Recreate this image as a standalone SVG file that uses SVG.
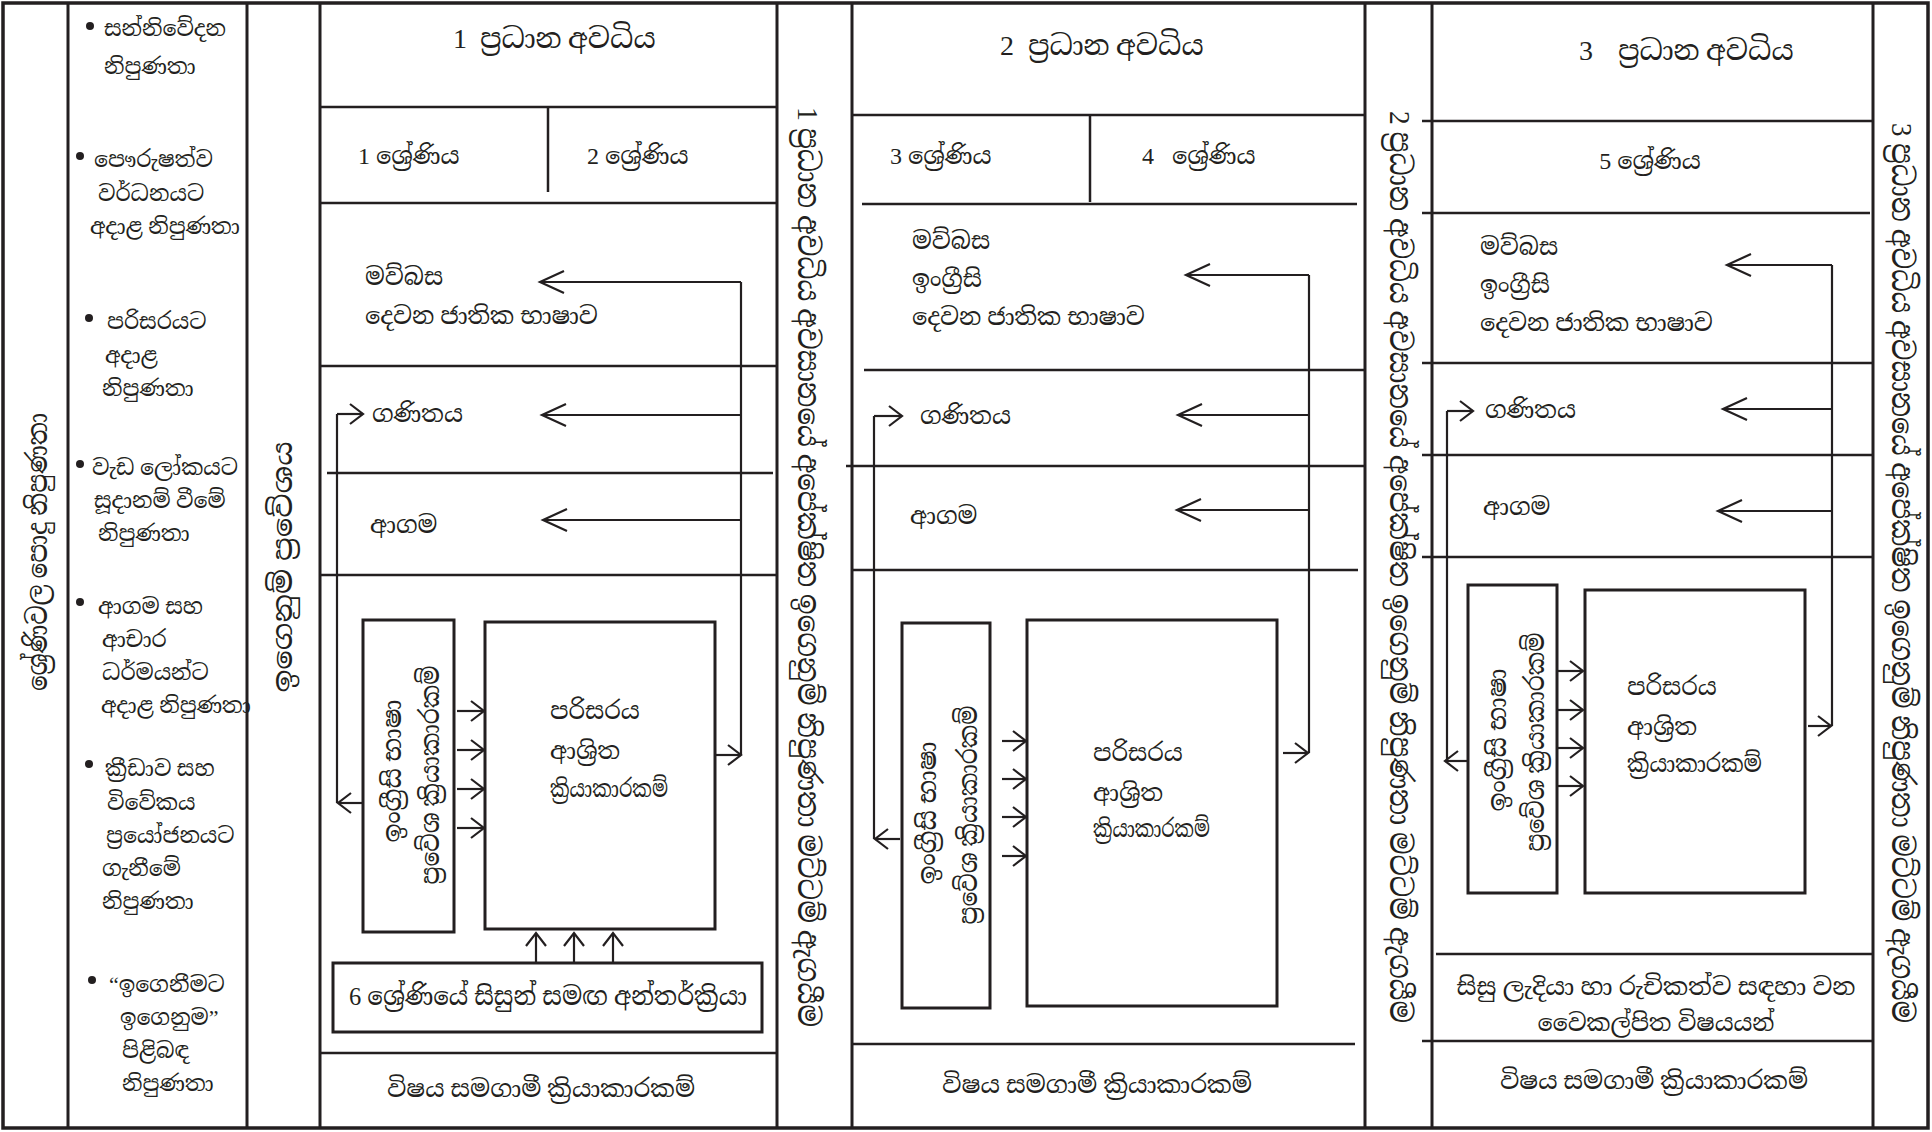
<svg xmlns="http://www.w3.org/2000/svg" width="1932" height="1132" viewBox="0 0 1932 1132">
<defs>
<marker id="big" markerUnits="userSpaceOnUse" markerWidth="30" markerHeight="30" refX="24" refY="11" orient="auto" overflow="visible">
<path d="M0,0 L24,11 L0,22" fill="none" stroke="#231f20" stroke-width="2.2"/>
</marker>
<marker id="sm" markerUnits="userSpaceOnUse" markerWidth="20" markerHeight="24" refX="13" refY="10" orient="auto" overflow="visible">
<path d="M0,0 L13,10 L0,20" fill="none" stroke="#231f20" stroke-width="2.2"/>
</marker>
<style>
.t{font-family:"Liberation Serif","Noto Serif Sinhala","Noto Sans Sinhala","Iskoola Pota",serif;fill:#231f20;}
.f22{font-size:22px;}
.f24{font-size:24px;}
.f26{font-size:26px;}
.f28{font-size:28px;}
.f30{font-size:30px;}
.ln{stroke:#231f20;stroke-width:2.5;fill:none;}
.th{stroke:#231f20;stroke-width:3;fill:none;}
.box{stroke:#231f20;stroke-width:3;fill:#fff;}
.c{stroke:#231f20;stroke-width:2.2;fill:none;}
.cb{stroke:#231f20;stroke-width:2.2;fill:none;marker-end:url(#big);}
.cs{stroke:#231f20;stroke-width:2.2;fill:none;marker-end:url(#sm);}
.m{text-anchor:middle;}
</style>
</defs>
<rect width="1932" height="1132" fill="#fff"/>

<g id="frame">
<rect x="3" y="3" width="1925" height="1125" fill="none" stroke="#231f20" stroke-width="3.5"/>
<line class="th" x1="68" y1="3" x2="68" y2="1128"/>
<line class="th" x1="247" y1="3" x2="247" y2="1128"/>
<line class="th" x1="320" y1="3" x2="320" y2="1128"/>
<line class="th" x1="777" y1="3" x2="777" y2="1128"/>
<line class="th" x1="852" y1="3" x2="852" y2="1128"/>
<line class="th" x1="1365" y1="3" x2="1365" y2="1128"/>
<line class="th" x1="1432" y1="3" x2="1432" y2="1128"/>
<line class="th" x1="1873" y1="3" x2="1873" y2="1128"/>
</g>

<g id="competencies">
<circle cx="90" cy="26" r="4" fill="#231f20"/>
<text class="t f22" x="104" y="36">සන්නිවේදන</text>
<text class="t f22" x="104" y="74">නිපුණතා</text>
<circle cx="80" cy="156" r="4" fill="#231f20"/>
<text class="t f22" x="94" y="167">පෞරුෂත්ව</text>
<text class="t f22" x="98" y="201">වර්ධනයට</text>
<text class="t f22" x="90" y="234">අදාළ නිපුණතා</text>
<circle cx="89" cy="318" r="4" fill="#231f20"/>
<text class="t f22" x="107" y="329">පරිසරයට</text>
<text class="t f22" x="105" y="363">අදාළ</text>
<text class="t f22" x="102" y="396">නිපුණතා</text>
<circle cx="80" cy="464" r="4" fill="#231f20"/>
<text class="t f22" x="92" y="475">වැඩ ලෝකයට</text>
<text class="t f22" x="94" y="508">සූදානම් වීමේ</text>
<text class="t f22" x="98" y="541">නිපුණතා</text>
<circle cx="80" cy="602" r="4" fill="#231f20"/>
<text class="t f22" x="98" y="614">ආගම සහ</text>
<text class="t f22" x="102" y="647">ආචාර</text>
<text class="t f22" x="102" y="680">ධර්මයන්ට</text>
<text class="t f22" x="101" y="713">අදාළ නිපුණතා</text>
<circle cx="89" cy="764" r="4" fill="#231f20"/>
<text class="t f22" x="105" y="776">ක්‍රීඩාව සහ</text>
<text class="t f22" x="107" y="810">විවේකය</text>
<text class="t f22" x="106" y="843">ප්‍රයෝජනයට</text>
<text class="t f22" x="102" y="876">ගැනීමේ</text>
<text class="t f22" x="102" y="909">නිපුණතා</text>
<circle cx="92" cy="980" r="4" fill="#231f20"/>
<text class="t f22" x="109" y="992">“ඉගෙනීමට</text>
<text class="t f22" x="120" y="1025">ඉගෙනුම”</text>
<text class="t f22" x="122" y="1058">පිළිබඳ</text>
<text class="t f22" x="122" y="1091">නිපුණතා</text>
</g>

<g id="side-left">
<text class="t f28 m" transform="translate(37,552) rotate(-90)" dy="10" textLength="278" lengthAdjust="spacingAndGlyphs">ශ්‍රේණිවල පොදු නිපුණතා</text>
<text class="t f28 m" transform="translate(282,567) rotate(-90)" dy="10" textLength="251" lengthAdjust="spacingAndGlyphs">ඉගෙනුම් ප්‍රවේශය</text>
</g>

<g id="side-right">
<text class="t f30 m" transform="translate(808,567) rotate(90)" dy="10" textLength="920" lengthAdjust="spacingAndGlyphs">1 ප්‍රධාන අවධිය අවසානයේ අපේක්ෂිත ඉගෙනුම් නිපුණතා මට්ටම් ඇගයීම</text>
<text class="t f30 m" transform="translate(1400,567) rotate(90)" dy="10" textLength="912" lengthAdjust="spacingAndGlyphs">2 ප්‍රධාන අවධිය අවසානයේ අපේක්ෂිත ඉගෙනුම් නිපුණතා මට්ටම් ඇගයීම</text>
<text class="t f30 m" transform="translate(1902,573) rotate(90)" dy="10" textLength="900" lengthAdjust="spacingAndGlyphs">3 ප්‍රධාන අවධිය අවසානයේ අපේක්ෂිත ඉගෙනුම් නිපුණතා මට්ටම් ඇගයීම</text>
</g>

<g id="stage1">
<line class="ln" x1="320" y1="107" x2="777" y2="107"/>
<line class="ln" x1="548" y1="107" x2="548" y2="192"/>
<line class="ln" x1="320" y1="203" x2="777" y2="203"/>
<line class="ln" x1="320" y1="366" x2="777" y2="366"/>
<line class="ln" x1="327" y1="473" x2="773" y2="473"/>
<line class="ln" x1="320" y1="575" x2="777" y2="575"/>
<line class="ln" x1="320" y1="1053" x2="777" y2="1053"/>
<text class="t f28" x="453" y="48">1<tspan x="480">ප්‍රධාන</tspan><tspan x="568">අවධිය</tspan></text>
<text class="t f24" x="358" y="164">1 ශ්‍රේණිය</text>
<text class="t f24" x="587" y="164">2 ශ්‍රේණිය</text>
<text class="t f24" x="365" y="285">මව්බස</text>
<text class="t f24" x="365" y="324">දෙවන ජාතික භාෂාව</text>
<text class="t f24" x="372" y="422">ගණිතය</text>
<text class="t f24" x="370" y="533">ආගම</text>
<g id="s1-box1"><rect class="box" x="363" y="620" width="91" height="312"/>
<text class="t f26 m" transform="translate(392,771) rotate(-90)" dy="9" textLength="143" lengthAdjust="spacingAndGlyphs">ඉංග්‍රීසි භාෂා</text>
<text class="t f26 m" transform="translate(430,775) rotate(-90)" dy="9" textLength="219" lengthAdjust="spacingAndGlyphs">ප්‍රවේශ ක්‍රියාකාරකම්</text></g>
<g id="s1-box2"><rect class="box" x="485" y="622" width="230" height="307"/>
<text class="t f24" x="550" y="719">පරිසරය</text>
<text class="t f24" x="550" y="759">ආශ්‍රිත</text>
<text class="t f24" x="550" y="797" textLength="118" lengthAdjust="spacingAndGlyphs">ක්‍රියාකාරකම්</text></g>
<g id="s1-box3"><rect class="box" x="333" y="963" width="429" height="69"/>
<text class="t f26 m" x="548" y="1005" textLength="398" lengthAdjust="spacingAndGlyphs">6 ශ්‍රේණියේ සිසුන් සමඟ අන්තර්ක්‍රියා</text></g>
<text class="t f24 m" x="541" y="1097" textLength="308" lengthAdjust="spacingAndGlyphs">විෂය සමගාමී ක්‍රියාකාරකම්</text>
</g>

<g id="stage2">
<line class="ln" x1="852" y1="115" x2="1365" y2="115"/>
<line class="ln" x1="1090" y1="115" x2="1090" y2="202"/>
<line class="ln" x1="862" y1="204" x2="1357" y2="204"/>
<line class="ln" x1="864" y1="370" x2="1365" y2="370"/>
<line class="ln" x1="846" y1="466" x2="1365" y2="466"/>
<line class="ln" x1="852" y1="570" x2="1358" y2="570"/>
<line class="ln" x1="852" y1="1044" x2="1355" y2="1044"/>
<text class="t f28" x="1000" y="55">2<tspan x="1028">ප්‍රධාන</tspan><tspan x="1116">අවධිය</tspan></text>
<text class="t f24" x="890" y="164">3 ශ්‍රේණිය</text>
<text class="t f24" x="1142" y="164">4<tspan x="1172">ශ්‍රේණිය</tspan></text>
<text class="t f24" x="912" y="249">මව්බස</text>
<text class="t f24" x="912" y="287">ඉංග්‍රීසි</text>
<text class="t f24" x="912" y="325">දෙවන ජාතික භාෂාව</text>
<text class="t f24" x="920" y="424">ගණිතය</text>
<text class="t f24" x="910" y="524">ආගම</text>
<g id="s2-box1"><rect class="box" x="902" y="623" width="88" height="385"/>
<text class="t f26 m" transform="translate(927,813) rotate(-90)" dy="9" textLength="143" lengthAdjust="spacingAndGlyphs">ඉංග්‍රීසි භාෂා</text>
<text class="t f26 m" transform="translate(968,815) rotate(-90)" dy="9" textLength="219" lengthAdjust="spacingAndGlyphs">ප්‍රවේශ ක්‍රියාකාරකම්</text></g>
<g id="s2-box2"><rect class="box" x="1027" y="620" width="250" height="386"/>
<text class="t f24" x="1093" y="761">පරිසරය</text>
<text class="t f24" x="1093" y="801">ආශ්‍රිත</text>
<text class="t f24" x="1093" y="837" textLength="117" lengthAdjust="spacingAndGlyphs">ක්‍රියාකාරකම්</text></g>
<text class="t f24 m" x="1097" y="1093" textLength="310" lengthAdjust="spacingAndGlyphs">විෂය සමගාමී ක්‍රියාකාරකම්</text>
</g>

<g id="stage3">
<line class="ln" x1="1422" y1="121" x2="1873" y2="121"/>
<line class="ln" x1="1422" y1="213" x2="1870" y2="213"/>
<line class="ln" x1="1422" y1="363" x2="1873" y2="363"/>
<line class="ln" x1="1422" y1="455" x2="1873" y2="455"/>
<line class="ln" x1="1422" y1="557" x2="1873" y2="557"/>
<line class="ln" x1="1436" y1="954" x2="1873" y2="954"/>
<line class="ln" x1="1422" y1="1041" x2="1873" y2="1041"/>
<text class="t f28" x="1579" y="60">3<tspan x="1618">ප්‍රධාන</tspan><tspan x="1706">අවධිය</tspan></text>
<text class="t f24 m" x="1650" y="169">5 ශ්‍රේණිය</text>
<text class="t f24" x="1480" y="255">මව්බස</text>
<text class="t f24" x="1480" y="293">ඉංග්‍රීසි</text>
<text class="t f24" x="1480" y="331">දෙවන ජාතික භාෂාව</text>
<text class="t f24" x="1485" y="418">ගණිතය</text>
<text class="t f24" x="1483" y="515">ආගම</text>
<g id="s3-box1"><rect class="box" x="1468" y="585" width="89" height="308"/>
<text class="t f26 m" transform="translate(1497,740) rotate(-90)" dy="9" textLength="143" lengthAdjust="spacingAndGlyphs">ඉංග්‍රීසි භාෂා</text>
<text class="t f26 m" transform="translate(1535,742) rotate(-90)" dy="9" textLength="219" lengthAdjust="spacingAndGlyphs">ප්‍රවේශ ක්‍රියාකාරකම්</text></g>
<g id="s3-box2"><rect class="box" x="1585" y="590" width="220" height="303"/>
<text class="t f24" x="1627" y="695">පරිසරය</text>
<text class="t f24" x="1627" y="735">ආශ්‍රිත</text>
<text class="t f24" x="1627" y="772" textLength="135" lengthAdjust="spacingAndGlyphs">ක්‍රියාකාරකම්</text></g>
<text class="t f24 m" x="1656" y="995" textLength="399" lengthAdjust="spacingAndGlyphs">සිසු ලැදියා හා රුචිකත්ව සඳහා වන</text>
<text class="t f24 m" x="1656" y="1031" textLength="237" lengthAdjust="spacingAndGlyphs">වෛකල්පිත විෂයයන්</text>
<text class="t f24 m" x="1654" y="1089" textLength="308" lengthAdjust="spacingAndGlyphs">විෂය සමගාමී ක්‍රියාකාරකම්</text>
</g>

<g id="connectors">
<line class="c" x1="741" y1="282" x2="741" y2="755"/>
<line class="cb" x1="741" y1="282" x2="540" y2="282"/>
<line class="cb" x1="741" y1="415" x2="542" y2="415"/>
<line class="cb" x1="741" y1="520" x2="543" y2="520"/>
<line class="cs" x1="716" y1="755" x2="741" y2="755"/>
<line class="c" x1="337" y1="414" x2="337" y2="803"/>
<line class="cs" x1="337" y1="414" x2="363" y2="414"/>
<line class="cs" x1="363" y1="803" x2="338" y2="803"/>
<line class="cs" x1="457" y1="711" x2="484" y2="711"/>
<line class="cs" x1="457" y1="750" x2="484" y2="750"/>
<line class="cs" x1="457" y1="789" x2="484" y2="789"/>
<line class="cs" x1="457" y1="828" x2="484" y2="828"/>
<line class="cs" x1="536" y1="962" x2="536" y2="933"/>
<line class="cs" x1="574" y1="962" x2="574" y2="933"/>
<line class="cs" x1="613" y1="962" x2="613" y2="933"/>

<line class="c" x1="1309" y1="275" x2="1309" y2="753"/>
<line class="cb" x1="1309" y1="275" x2="1186" y2="275"/>
<line class="cb" x1="1309" y1="415" x2="1178" y2="415"/>
<line class="cb" x1="1309" y1="510" x2="1177" y2="510"/>
<line class="cs" x1="1283" y1="753" x2="1308" y2="753"/>
<line class="c" x1="874" y1="416" x2="874" y2="839"/>
<line class="cs" x1="874" y1="416" x2="902" y2="416"/>
<line class="cs" x1="900" y1="839" x2="875" y2="839"/>
<line class="cs" x1="1002" y1="741" x2="1026" y2="741"/>
<line class="cs" x1="1002" y1="779" x2="1026" y2="779"/>
<line class="cs" x1="1002" y1="817" x2="1026" y2="817"/>
<line class="cs" x1="1002" y1="856" x2="1026" y2="856"/>

<line class="c" x1="1832" y1="265" x2="1832" y2="726"/>
<line class="cb" x1="1832" y1="265" x2="1727" y2="265"/>
<line class="cb" x1="1832" y1="409" x2="1723" y2="409"/>
<line class="cb" x1="1832" y1="511" x2="1718" y2="511"/>
<line class="cs" x1="1808" y1="726" x2="1831" y2="726"/>
<line class="c" x1="1447" y1="411" x2="1447" y2="761"/>
<line class="cs" x1="1447" y1="411" x2="1473" y2="411"/>
<line class="cs" x1="1467" y1="761" x2="1445" y2="761"/>
<line class="cs" x1="1558" y1="671" x2="1583" y2="671"/>
<line class="cs" x1="1558" y1="710" x2="1583" y2="710"/>
<line class="cs" x1="1558" y1="748" x2="1583" y2="748"/>
<line class="cs" x1="1558" y1="786" x2="1583" y2="786"/>
</g>
</svg>
